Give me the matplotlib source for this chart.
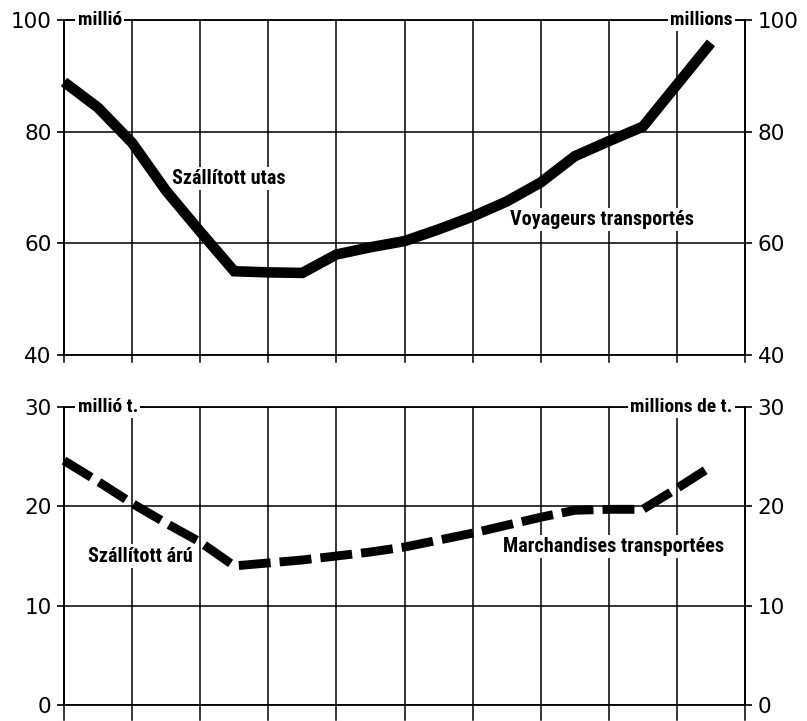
import matplotlib
matplotlib.use("Agg")
import matplotlib.pyplot as plt
import numpy as np

# ---- data ----
years_idx = list(range(20))          # half-grid positions (one point per period)
passengers = [88.9, 84.3, 78.0, 69.4, 62.1, 55.0, 54.8, 54.7, 58.0, 59.3,
              60.4, 62.5, 64.8, 67.5, 70.9, 75.6, 78.3, 80.9, 88.4, 95.9]
freight = [24.6, 22.5, 20.3, 18.3, 16.4, 14.0, 14.3, 14.6, 15.0, 15.4,
           15.9, 16.6, 17.3, 18.1, 18.9, 19.6, 19.7, 19.7, 21.8, 24.0]
top_ticks = [40, 60, 80, 100]
bot_ticks = [0, 10, 20, 30]
label_pass_hu = "Szállított utas"
label_pass_fr = "Voyageurs transportés"
label_frt_hu = "Szállított árú"
label_frt_fr = "Marchandises transportées"
unit_top_hu, unit_top_fr = "millió", "millions"
unit_bot_hu, unit_bot_fr = "millió t.", "millions de t."

plt.rcParams['lines.scale_dashes'] = False
LBL_FONT = ['Liberation Sans Narrow', 'Roboto Condensed', 'Liberation Sans', 'DejaVu Sans']

fig = plt.figure(figsize=(8.07, 7.21), dpi=100)
fig.patch.set_facecolor('white')
W, H = 807, 721
def rect(l, r, t, b):
    return [l / W, 1 - b / H, (r - l) / W, (b - t) / H]

ax1 = fig.add_axes(rect(64, 745, 20, 355))
ax2 = fig.add_axes(rect(64, 745, 407, 705))

def style(ax, ticks, ext_px, height_px):
    ax.set_xlim(0, 20)
    ax.set_ylim(ticks[0], ticks[-1])
    ax.set_yticks(ticks)
    ax.set_xticks([])
    ax.tick_params(axis='y', which='both', left=True, right=True, labelleft=True,
                   labelright=True, direction='out', length=5, width=1.2,
                   labelsize=15.5, pad=4, colors='black')
    for s in ax.spines.values():
        s.set_linewidth(1.3)
        s.set_color('black')
    for t in ticks:
        ax.axhline(t, color='black', lw=1.1, zorder=1)
    for gx in range(0, 21, 2):
        ax.axvline(gx, ymin=-ext_px / height_px, ymax=1, color='black', lw=1.1,
                   clip_on=False, zorder=1)

style(ax1, top_ticks, 7, 335)
style(ax2, bot_ticks, 15, 298)

ax1.plot(years_idx, passengers, color='black', lw=7.6, solid_capstyle='butt',
         solid_joinstyle='miter', zorder=4, clip_on=False)
ax2.plot(years_idx, freight, color='black', lw=6.4, dashes=(23, 6.5),
         dash_capstyle='butt', zorder=4, clip_on=False)

bb = dict(facecolor='white', edgecolor='none', pad=1.5)
LS = 14.5
ax1.text(3.18, 71.6, label_pass_hu, family=LBL_FONT, fontsize=LS, fontweight='bold',
         ha='left', va='center', bbox=bb, zorder=3)
ax1.text(13.1, 64.3, label_pass_fr, family=LBL_FONT, fontsize=LS, fontweight='bold',
         ha='left', va='center', bbox=bb, zorder=3)
ax2.text(0.7, 15.0, label_frt_hu, family=LBL_FONT, fontsize=LS, fontweight='bold',
         ha='left', va='center', bbox=bb, zorder=3)
ax2.text(12.9, 16.0, label_frt_fr, family=LBL_FONT, fontsize=LS, fontweight='bold',
         ha='left', va='center', bbox=bb, zorder=3)

for ax, hu, fr in [(ax1, unit_top_hu, unit_top_fr), (ax2, unit_bot_hu, unit_bot_fr)]:
    ax.text(0.02, 1.0, hu, transform=ax.transAxes, family=LBL_FONT, fontsize=14,
            fontweight='bold', ha='left', va='center', bbox=bb, zorder=5, clip_on=False)
    ax.text(0.982, 1.0, fr, transform=ax.transAxes, family=LBL_FONT, fontsize=14,
            fontweight='bold', ha='right', va='center', bbox=bb, zorder=5, clip_on=False)

fig.savefig("out.png", dpi=100, facecolor='white')
